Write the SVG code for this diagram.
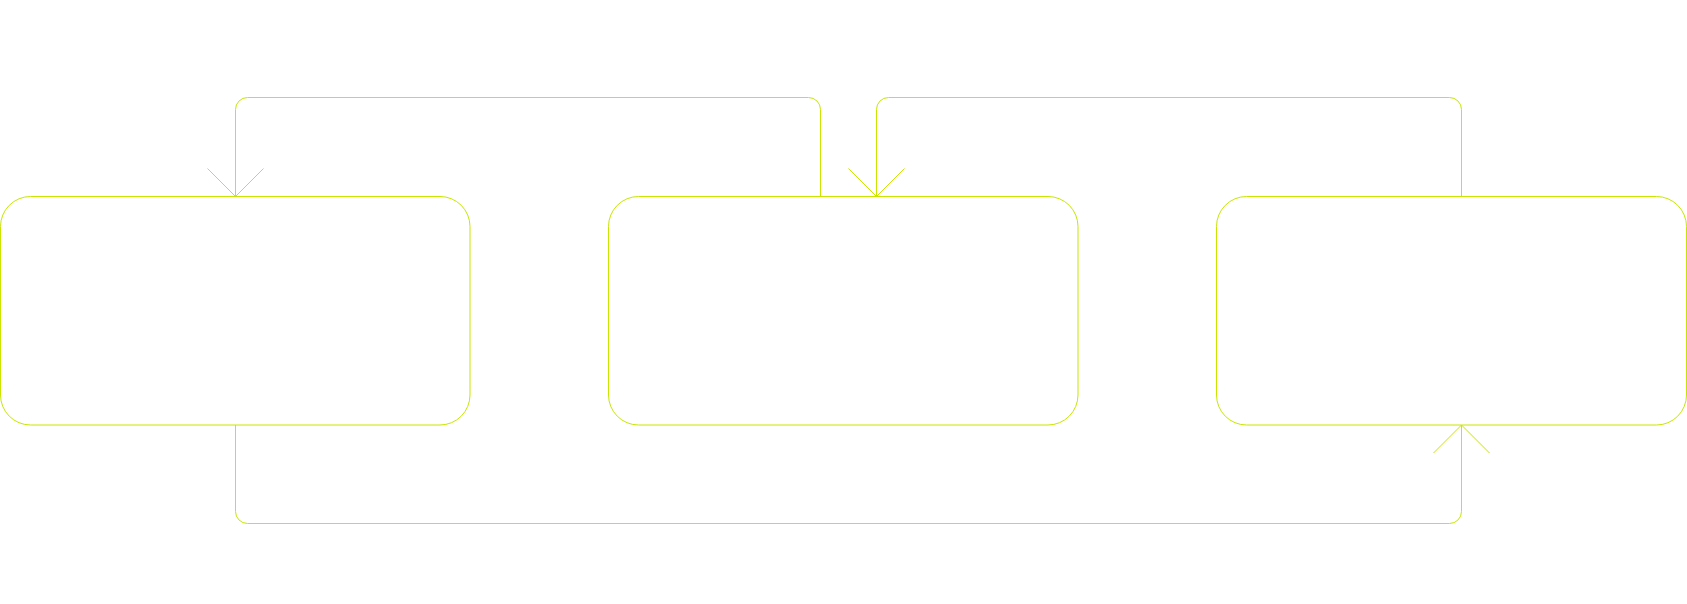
<svg xmlns="http://www.w3.org/2000/svg" width="1687" height="604" viewBox="0 0 1687 604">
  <style>
    .node { fill: none; stroke: #c8e600; stroke-width: 1; }
    .edge { fill: none; stroke: #c8e600; stroke-width: 1; }
    .head { fill: none; stroke: #c8e600; stroke-width: 1; }
  </style>
  <defs>
    <marker id="arrow" markerUnits="userSpaceOnUse" markerWidth="60" markerHeight="60" refX="30" refY="30" viewBox="0 0 60 60" orient="auto" overflow="visible">
      <path class="head" d="M2,2 L30,30 L2,58"/>
    </marker>
  </defs>
  <rect width="1687" height="604" fill="#ffffff"/>
  <g id="connectors">
    <path class="edge" d="M820.5,196.5 V109.5 A12,12 0 0 0 808.5,97.5 H247.5 A12,12 0 0 0 235.5,109.5 V196.5" marker-end="url(#arrow)"/>
    <path class="edge" d="M1461.5,196.5 V109.5 A12,12 0 0 0 1449.5,97.5 H888.5 A12,12 0 0 0 876.5,109.5 V196.5" marker-end="url(#arrow)"/>
    <path class="edge" d="M235.5,425 V511.5 A12,12 0 0 0 247.5,523.5 H1449.5 A12,12 0 0 0 1461.5,511.5 V425" marker-end="url(#arrow)"/>
  </g>
  <g id="node1">
    <rect class="node" x="0.5" y="196.5" width="469.5" height="228.5" rx="30" ry="30"/>
  </g>
  <g id="node2">
    <rect class="node" x="608.5" y="196.5" width="469.5" height="228.5" rx="30" ry="30"/>
  </g>
  <g id="node3">
    <rect class="node" x="1216.5" y="196.5" width="470" height="228.5" rx="30" ry="30"/>
  </g>
</svg>
